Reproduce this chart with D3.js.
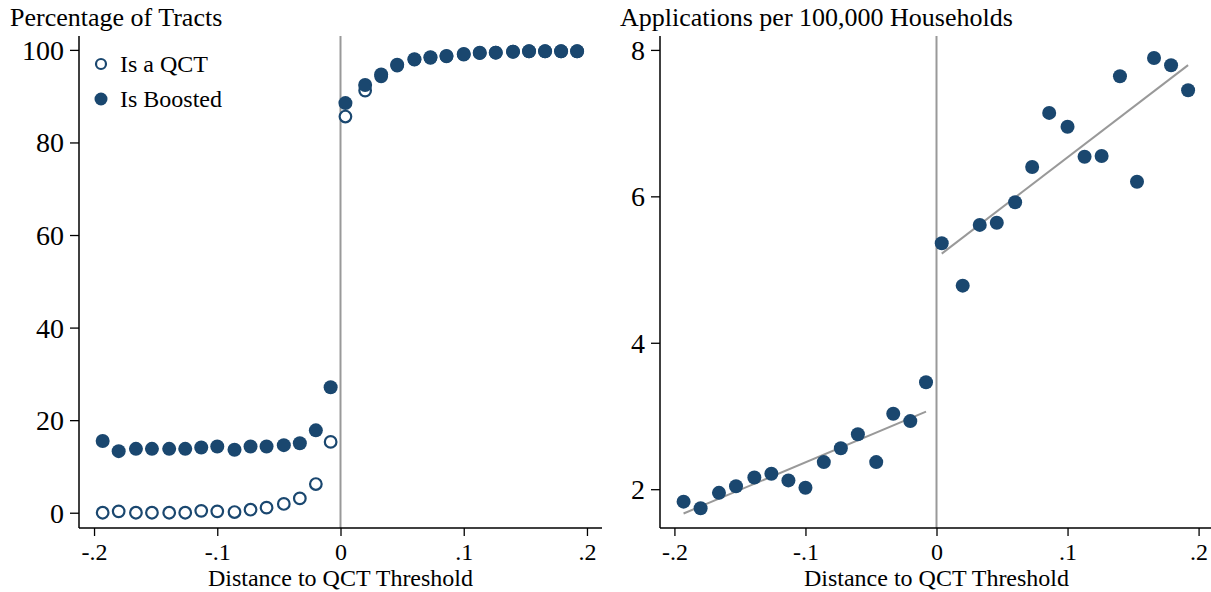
<!DOCTYPE html>
<html lang="en">
<head>
    <meta charset="UTF-8">
    <title>QCT threshold</title>
    <script src="https://d3js.org/d3.v7.min.js"></script>
    <style>
        body { margin: 0; background: #fff; }
        text { font-family: "Liberation Serif", "Times New Roman", serif; fill: #000; }
    </style>
</head>
<body>
    <div id="chart"></div>
    <script>
        const ancho = 1211;
        const alto = 592;
        const azul = "#1a476f";
        const gris = "#999999";

        // bin centres (distance to QCT threshold)
        const binX = [-0.193, -0.180, -0.166, -0.153, -0.139, -0.126, -0.113, -0.100, -0.086, -0.073,
                      -0.060, -0.046, -0.033, -0.020, -0.008,
                      0.004, 0.020, 0.033, 0.046, 0.060, 0.073, 0.086, 0.100, 0.113, 0.126,
                      0.140, 0.153, 0.166, 0.179, 0.192];

        // left panel: percentage of tracts
        const isQct = [0.0, 0.3, 0.0, 0.0, 0.0, 0.0, 0.4, 0.3, 0.15, 0.65, 1.1, 1.9, 3.1, 6.2, 15.3,
                       85.6, 91.2, 94.3, 96.6, 97.9, 98.3, 98.6, 99.0, 99.3, 99.4, 99.6, 99.7, 99.7, 99.7, 99.7];
        const isBoosted = [15.5, 13.3, 13.8, 13.8, 13.8, 13.8, 14.1, 14.3, 13.6, 14.3, 14.3, 14.6, 15.0, 17.8, 27.1,
                           88.5, 92.4, 94.7, 96.8, 98.0, 98.4, 98.7, 99.1, 99.4, 99.4, 99.6, 99.7, 99.7, 99.7, 99.7];

        // right panel: applications per 100,000 households
        const applications = [1.83, 1.74, 1.95, 2.04, 2.16, 2.21, 2.12, 2.02, 2.37, 2.56, 2.75, 2.37, 3.03, 2.93, 3.46,
                              5.36, 4.78, 5.61, 5.64, 5.92, 6.40, 7.14, 6.95, 6.54, 6.55, 7.64, 6.20, 7.89, 7.79, 7.45];

        const xTicks = [-0.2, -0.1, 0, 0.1, 0.2];
        const xTickLabels = ["-.2", "-.1", "0", ".1", ".2"];
        const leftTicks = [0, 20, 40, 60, 80, 100];
        const rightTicks = [2, 4, 6, 8];
        const legendLabels = ["Is a QCT", "Is Boosted"];

        const svg = d3.select("#chart")
            .append("svg")
            .attr("width", ancho)
            .attr("height", alto);

        // least squares line over a set of points
        function ajuste(xs, ys) {
            const mx = d3.mean(xs), my = d3.mean(ys);
            let num = 0, den = 0;
            xs.forEach((x, i) => { num += (x - mx) * (ys[i] - my); den += (x - mx) * (x - mx); });
            const b = num / den;
            const a = my - b * mx;
            const x0 = d3.min(xs), x1 = d3.max(xs);
            return [[x0, a + b * x0], [x1, a + b * x1]];
        }

        function panel(cfg) {
            const g = svg.append("g");
            const x = d3.scaleLinear().domain(cfg.xDom).range([cfg.left, cfg.right]);
            const y = d3.scaleLinear().domain(cfg.yDom).range([528, 36]);

            // title
            g.append("text")
                .attr("x", cfg.titleX)
                .attr("y", 26)
                .style("font-size", "26px")
                .text(cfg.title);

            // reference line at zero
            g.append("line")
                .attr("x1", x(0)).attr("x2", x(0))
                .attr("y1", 36).attr("y2", 528)
                .attr("stroke", gris)
                .attr("stroke-width", 2);

            // y axis
            const ejeY = g.append("g")
                .attr("transform", `translate(${cfg.left},0)`)
                .call(d3.axisLeft(y).tickValues(cfg.yTicks).tickSize(9).tickPadding(6).tickFormat(d3.format("d")));
            ejeY.select(".domain").attr("stroke-width", 1.5).attr("d", `M0,36V528`);
            ejeY.selectAll(".tick line").attr("stroke-width", 1.3);
            ejeY.selectAll("text").style("font-size", "28px").attr("font-family", null).attr("dy", "0.34em");

            // x axis
            const ejeX = g.append("g")
                .attr("transform", "translate(0,528)")
                .call(d3.axisBottom(x).tickValues(xTicks).tickSize(8).tickPadding(7)
                    .tickFormat((d, i) => xTickLabels[i]));
            ejeX.select(".domain").attr("stroke-width", 1.5).attr("d", `M${cfg.left},0H${cfg.right}`);
            ejeX.selectAll(".tick line").attr("stroke-width", 1.3);
            ejeX.selectAll("text").style("font-size", "24px").attr("font-family", null);

            g.append("text")
                .attr("x", (cfg.left + cfg.right) / 2)
                .attr("y", 586)
                .attr("text-anchor", "middle")
                .style("font-size", "24px")
                .text("Distance to QCT Threshold");

            return { g, x, y };
        }

        // ---- left panel ----
        const p1 = panel({
            left: 79, right: 602, xDom: [-0.2122, 0.2122], yDom: [-3.3, 103.0],
            yTicks: leftTicks, title: "Percentage of Tracts", titleX: 10
        });

        p1.g.append("g").selectAll("circle")
            .data(binX.map((d, i) => [d, isQct[i]]))
            .join("circle")
            .attr("cx", d => p1.x(d[0]))
            .attr("cy", d => p1.y(d[1]))
            .attr("r", 5.8)
            .attr("fill", "#fff")
            .attr("stroke", azul)
            .attr("stroke-width", 2.2);

        p1.g.append("g").selectAll("circle")
            .data(binX.map((d, i) => [d, isBoosted[i]]))
            .join("circle")
            .attr("cx", d => p1.x(d[0]))
            .attr("cy", d => p1.y(d[1]))
            .attr("r", 7)
            .attr("fill", azul);

        // legend
        const leyenda = p1.g.append("g");
        legendLabels.forEach((lab, i) => {
            const cy = 64 + i * 35;
            if (i === 0) {
                leyenda.append("circle").attr("cx", 101).attr("cy", cy).attr("r", 5)
                    .attr("fill", "#fff").attr("stroke", azul).attr("stroke-width", 2.2);
            } else {
                leyenda.append("circle").attr("cx", 101).attr("cy", cy).attr("r", 6.5).attr("fill", azul);
            }
            leyenda.append("text")
                .attr("x", 120)
                .attr("y", cy + 8)
                .style("font-size", "24px")
                .text(lab);
        });

        // ---- right panel ----
        const p2 = panel({
            left: 660, right: 1213, xDom: [-0.211, 0.211], yDom: [1.47, 8.19],
            yTicks: rightTicks, title: "Applications per 100,000 Households", titleX: 620
        });

        const izq = binX.map((d, i) => i).filter(i => binX[i] < 0);
        const der = binX.map((d, i) => i).filter(i => binX[i] > 0);
        const linea = d3.line().x(d => p2.x(d[0])).y(d => p2.y(d[1]));
        [izq, der].forEach(idx => {
            p2.g.append("path")
                .attr("d", linea(ajuste(idx.map(i => binX[i]), idx.map(i => applications[i]))))
                .attr("fill", "none")
                .attr("stroke", gris)
                .attr("stroke-width", 2);
        });

        p2.g.append("g").selectAll("circle")
            .data(binX.map((d, i) => [d, applications[i]]))
            .join("circle")
            .attr("cx", d => p2.x(d[0]))
            .attr("cy", d => p2.y(d[1]))
            .attr("r", 7)
            .attr("fill", azul);
    </script>
</body>
</html>
